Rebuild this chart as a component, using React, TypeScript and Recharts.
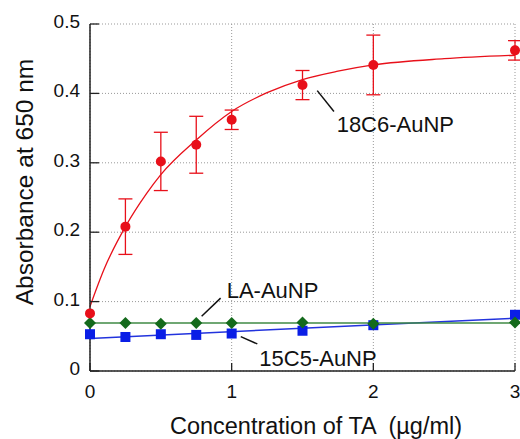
import {
  ComposedChart,
  Line,
  Scatter,
  XAxis,
  YAxis,
  CartesianGrid,
  ErrorBar,
  ReferenceLine,
  ReferenceDot,
} from "recharts"

// axis ticks
const xTicks = [0, 1, 2, 3]
const yTicks = [0, 0.1, 0.2, 0.3, 0.4, 0.5]

// 18C6-AuNP measurements
const conc18C6 = [0, 0.25, 0.5, 0.75, 1, 1.5, 2, 3]
const abs18C6 = [0.083, 0.208, 0.302, 0.326, 0.362, 0.412, 0.441, 0.462]
const err18C6 = [0, 0.04, 0.042, 0.041, 0.014, 0.021, 0.043, 0.014]

// fitted curve for 18C6-AuNP
const fit18C6X = [0, 0.1, 0.25, 0.4, 0.5, 0.75, 1, 1.25, 1.5, 1.75, 2, 2.5, 3]
const fit18C6Y = [0.093, 0.147, 0.208, 0.256, 0.283, 0.333, 0.374, 0.401, 0.42, 0.432, 0.441, 0.45, 0.455]

// 15C5-AuNP
const conc15C5 = [0, 0.25, 0.5, 0.75, 1, 1.5, 2, 3]
const abs15C5 = [0.053, 0.049, 0.053, 0.052, 0.054, 0.058, 0.066, 0.081]
const fit15C5X = [0, 3]
const fit15C5Y = [0.047, 0.076]

// LA-AuNP
const concLA = [0, 0.25, 0.5, 0.75, 1, 1.5, 2, 3]
const absLA = [0.069, 0.069, 0.068, 0.069, 0.069, 0.07, 0.068, 0.07]
const fitLAX = [0, 3]
const fitLAY = [0.069, 0.069]

const red = "#e8101a"
const blue = "#0a1ee6"
const blueLine = "#2233dd"
const green = "#146a1c"
const greenLine = "#3f8a44"
const frame = "#222"
const font = "'Liberation Sans', Arial, sans-serif"

const pts = (xs: number[], ys: number[], errs?: number[]) =>
  xs.map((x, i) => ({ x, y: ys[i], err: errs ? errs[i] : 0 }))

const data18C6 = pts(conc18C6, abs18C6, err18C6)
const curve18C6 = pts(fit18C6X, fit18C6Y)
const data15C5 = pts(conc15C5, abs15C5)
const line15C5 = pts(fit15C5X, fit15C5Y)
const dataLA = pts(concLA, absLA)
const lineLA = pts(fitLAX, fitLAY)

const RedDot = (p: any) => <circle cx={p.cx} cy={p.cy} r={5} fill={red} />
const BlueSquare = (p: any) => (
  <rect x={p.cx - 5} y={p.cy - 5} width={10} height={10} fill={blue} />
)
const GreenDiamond = (p: any) => (
  <polygon
    points={`${p.cx},${p.cy - 6} ${p.cx + 6},${p.cy} ${p.cx},${p.cy + 6} ${p.cx - 6},${p.cy}`}
    fill={green}
  />
)

const LeftTick = (p: any) => (
  <g>
    <line x1={p.x + 10} x2={p.x + 19} y1={p.y} y2={p.y} stroke={frame} strokeWidth={1.3} />
    <text x={p.x} y={p.y + 4} textAnchor="end" fontSize={19} fontFamily={font} fill="#111">
      {p.payload.value}
    </text>
  </g>
)
const RightTick = (p: any) => (
  <line x1={p.x} x2={p.x - 8} y1={p.y} y2={p.y} stroke={frame} strokeWidth={1.3} />
)
const BottomTick = (p: any) => (
  <g>
    <line x1={p.x} x2={p.x} y1={p.y} y2={p.y - 8} stroke={frame} strokeWidth={1.3} />
    <text x={p.x} y={p.y + 27} textAnchor="middle" fontSize={19} fontFamily={font} fill="#111">
      {p.payload.value}
    </text>
  </g>
)
const TopTick = (p: any) => (
  <line x1={p.x} x2={p.x} y1={p.y} y2={p.y + 8} stroke={frame} strokeWidth={1.3} />
)

const labelStyle = { fontSize: 22, fill: "#111", fontFamily: font }

export default function App() {
  return (
    <div style={{ position: "absolute", left: 0, top: 0, fontFamily: font }}>
      <ComposedChart width={520} height={439} margin={{ top: 24, right: 5, left: 0, bottom: 0 }}>
        <CartesianGrid stroke="#999" strokeDasharray="1 2" strokeWidth={1} />
        <XAxis
          dataKey="x"
          type="number"
          domain={[0, 3]}
          ticks={xTicks}
          height={68}
          tickSize={0}
          tickMargin={0}
          tickLine={false}
          tick={<BottomTick />}
          axisLine={{ stroke: frame, strokeWidth: 1.5 }}
          label={() => (
            <text
              x={316}
              y={434}
              textAnchor="middle"
              fontSize={23.5}
              fontFamily={font}
              fill="#111"
              style={{ whiteSpace: "pre" }}
            >
              Concentration of TA  (µg/ml)
            </text>
          )}
        />
        <XAxis
          xAxisId="top"
          orientation="top"
          dataKey="x"
          type="number"
          domain={[0, 3]}
          ticks={xTicks}
          height={0}
          tickSize={0}
          tickMargin={0}
          tickLine={false}
          tick={<TopTick />}
          axisLine={{ stroke: frame, strokeWidth: 1.5 }}
        />
        <YAxis
          dataKey="y"
          type="number"
          domain={[0, 0.5]}
          ticks={yTicks}
          width={90}
          tickSize={0}
          tickMargin={10}
          tickLine={false}
          tick={<LeftTick />}
          axisLine={{ stroke: frame, strokeWidth: 1.5 }}
          label={() => (
            <text
              x={33}
              y={182}
              transform="rotate(-90 33 182)"
              textAnchor="middle"
              fontSize={24.5}
              fontFamily={font}
              fill="#111"
            >
              Absorbance at 650 nm
            </text>
          )}
        />
        <YAxis
          yAxisId="right"
          orientation="right"
          dataKey="y"
          type="number"
          domain={[0, 0.5]}
          ticks={yTicks}
          width={0}
          tickSize={0}
          tickMargin={0}
          tickLine={false}
          tick={<RightTick />}
          axisLine={{ stroke: frame, strokeWidth: 1.5 }}
        />

        <Line data={line15C5} dataKey="y" stroke={blueLine} strokeWidth={1.5} dot={false} isAnimationActive={false} />
        <Scatter data={data15C5} dataKey="y" shape={<BlueSquare />} isAnimationActive={false} />

        <Line data={lineLA} dataKey="y" stroke={greenLine} strokeWidth={1.5} dot={false} isAnimationActive={false} />
        <Scatter data={dataLA} dataKey="y" shape={<GreenDiamond />} isAnimationActive={false} />

        <Line
          data={curve18C6}
          dataKey="y"
          type="monotone"
          stroke={red}
          strokeWidth={1.3}
          dot={false}
          isAnimationActive={false}
        />
        <Scatter data={data18C6} dataKey="y" shape={<RedDot />} isAnimationActive={false}>
          <ErrorBar dataKey="err" direction="y" width={7} stroke={red} strokeWidth={1.3} isAnimationActive={false} />
        </Scatter>

        <ReferenceLine segment={[{ x: 1.604, y: 0.404 }, { x: 1.722, y: 0.374 }]} stroke="#111" strokeWidth={1.5} />
        <ReferenceLine segment={[{ x: 0.788, y: 0.079 }, { x: 0.922, y: 0.105 }]} stroke="#111" strokeWidth={1.5} />
        <ReferenceLine segment={[{ x: 1.064, y: 0.0495 }, { x: 1.181, y: 0.039 }]} stroke="#111" strokeWidth={1.5} />

        <ReferenceDot x={1.741} y={0.355} r={0} fill="none" stroke="none"
          label={{ value: "18C6-AuNP", position: "right", offset: 0, ...labelStyle }} />
        <ReferenceDot x={0.965} y={0.117} r={0} fill="none" stroke="none"
          label={{ value: "LA-AuNP", position: "right", offset: 0, ...labelStyle }} />
        <ReferenceDot x={1.195} y={0.0187} r={0} fill="none" stroke="none"
          label={{ value: "15C5-AuNP", position: "right", offset: 0, ...labelStyle }} />
      </ComposedChart>
    </div>
  )
}
